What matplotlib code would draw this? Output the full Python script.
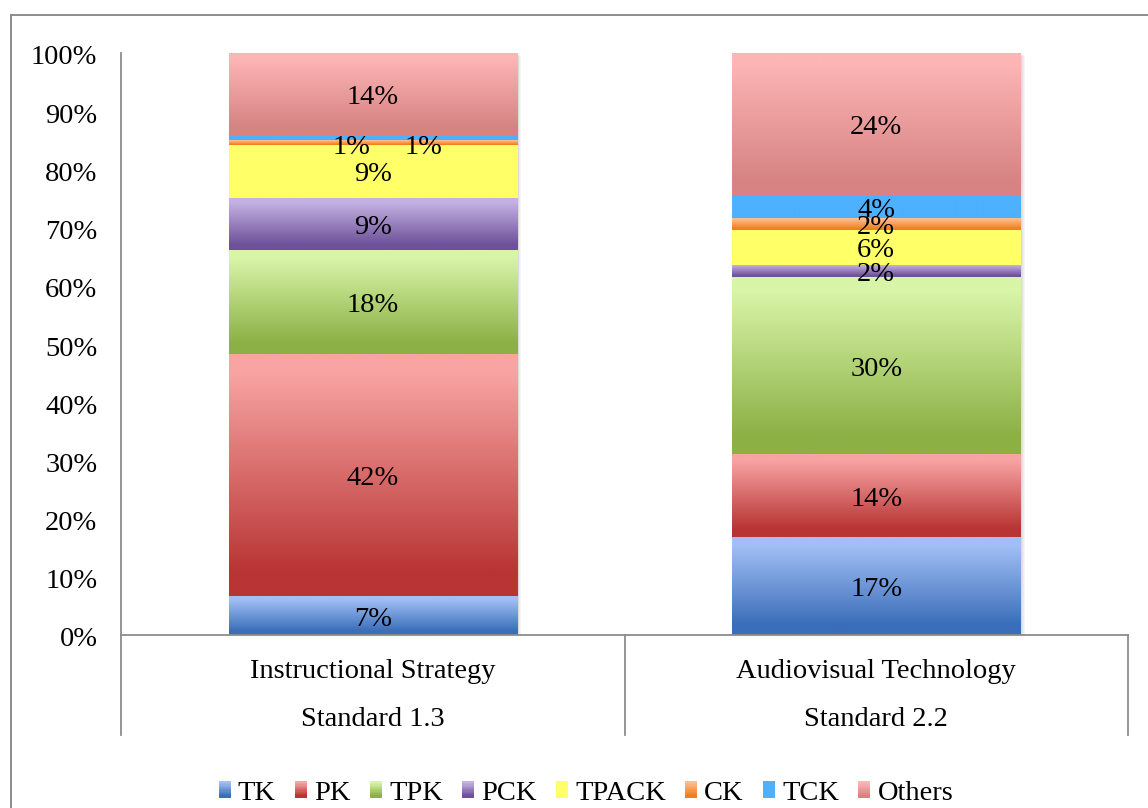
import numpy as np
import matplotlib
matplotlib.use("Agg")
import matplotlib.pyplot as plt
from matplotlib.patches import Rectangle, Patch
from matplotlib.legend_handler import HandlerBase
from matplotlib.lines import Line2D
from matplotlib.colors import to_rgb
import matplotlib.transforms as mtransforms

# ---------------- data ----------------
categories = ["Instructional Strategy", "Audiovisual Technology"]
standards = ["Standard 1.3", "Standard 2.2"]
series_names = ["TK", "PK", "TPK", "PCK", "TPACK", "CK", "TCK", "Others"]
TK = [6.7, 16.8]
PK = [41.6, 14.3]
TPK = [17.9, 30.4]
PCK = [8.9, 2.1]
TPACK = [9.1, 6.0]
CK = [0.8, 2.0]
TCK = [0.9, 4.0]
Others = [14.1, 24.4]
series_values = [TK, PK, TPK, PCK, TPACK, CK, TCK, Others]
ytick_values = [0, 10, 20, 30, 40, 50, 60, 70, 80, 90, 100]

# ---------------- style ----------------
light_colors = ["#A2BFF6", "#F8A4A3", "#D8F5A8", "#C4B2E2", "#FFFF6A", "#FFBE8C", "#4DB1FF", "#FDB5B5"]
dark_colors = ["#3A6EB9", "#B83534", "#8DB045", "#6E519A", "#FFFF66", "#F07E1E", "#4DB1FF", "#D78383"]
FONT = "Liberation Serif"
FS = 20.5
GREY = "#8c8c8c"
plt.rcParams["font.family"] = [FONT, "DejaVu Serif"]

W, H = 1148, 808
fig = plt.figure(figsize=(W / 100, H / 100), dpi=100)
ax_left, ax_right, ax_top, ax_bot = 121, 1128, 53, 635
ax = fig.add_axes([ax_left / W, 1 - ax_bot / H, (ax_right - ax_left) / W, (ax_bot - ax_top) / H])
ax_h_px = ax_bot - ax_top

bar_width = 0.572
x = np.arange(len(categories))


def grad_array(light, dark, n=256):
    s = np.linspace(0, 1, n)
    t = np.clip((s - 0.08) / 0.82, 0, 1)[:, None]
    l = np.array(to_rgb(light))[None, :]
    d = np.array(to_rgb(dark))[None, :]
    return (l * (1 - t) + d * t)[:, None, :]


# shadows
totals = np.sum(np.array(series_values), axis=0)
for k in range(1, 6):
    off = mtransforms.offset_copy(ax.transData, fig=fig, x=k * 0.9, y=-k * 0.6, units="dots")
    ax.bar(x, totals, width=bar_width, color="black", alpha=0.035, zorder=1,
           transform=off, linewidth=0)

bottom = np.zeros(len(categories))
for si, vals in enumerate(series_values):
    bars = ax.bar(x, vals, width=bar_width, bottom=bottom, color=dark_colors[si],
                  linewidth=0, zorder=2)
    g = grad_array(light_colors[si], dark_colors[si])
    for b in bars:
        bx, by = b.get_x(), b.get_y()
        bw, bh = b.get_width(), b.get_height()
        im = ax.imshow(g, extent=(bx, bx + bw, by, by + bh), aspect="auto",
                       origin="upper", zorder=3, interpolation="bilinear")
        im.set_clip_path(b)
    bottom = bottom + np.array(vals)

# data labels
label_tweaks = {("CK", 0): (-0.042, -0.3), ("TCK", 0): (0.101, -1.1)}
lab_tr = mtransforms.offset_copy(ax.transData, fig=fig, x=0, y=-3.5, units="dots")
bottom = np.zeros(len(categories))
for si, vals in enumerate(series_values):
    for ci, v in enumerate(vals):
        dx, dy = label_tweaks.get((series_names[si], ci), (0, 0))
        ax.text(x[ci] + dx, bottom[ci] + v / 2 + dy, f"{round(v)}%", ha="center", va="center",
                fontsize=FS, zorder=5, color="black", transform=lab_tr)
    bottom = bottom + np.array(vals)

ax.set_xlim(-0.5, len(categories) - 0.5)
ax.set_ylim(0, 100)
ax.set_yticks(ytick_values)
ax.set_yticklabels([f"{v}%" for v in ytick_values], fontsize=FS)
ax.tick_params(axis="y", length=0, pad=17)
for lbl in ax.get_yticklabels():
    lbl.set_transform(lbl.get_transform() + mtransforms.ScaledTranslation(0, -2 / 100, fig.dpi_scale_trans))
ax.set_xticks([])
for side in ["top", "right"]:
    ax.spines[side].set_visible(False)
for side in ["left", "bottom"]:
    ax.spines[side].set_color(GREY)
    ax.spines[side].set_linewidth(1.3)
ax.spines["bottom"].set_zorder(6)

# multi-level category axis
xt = ax.get_xaxis_transform()
depth = -(735 - ax_bot) / ax_h_px
for xs in np.arange(-0.5, len(categories), 1.0):
    ax.plot([xs, xs], [0, depth], color=GREY, lw=1.3, transform=xt, clip_on=False, zorder=6)
for ci in range(len(categories)):
    ax.text(x[ci], -(671 - ax_bot) / ax_h_px, categories[ci], transform=xt, ha="center",
            va="center", fontsize=FS)
    ax.text(x[ci], -(719 - ax_bot) / ax_h_px, standards[ci], transform=xt, ha="center",
            va="center", fontsize=FS)

# outer chart frame (partly visible)
fig.add_artist(Line2D([10.5 / W, 10.5 / W], [0, 1 - 14.5 / H], color=GREY, lw=1.4,
                      transform=fig.transFigure))
fig.add_artist(Line2D([10.5 / W, 1], [1 - 14.5 / H, 1 - 14.5 / H], color=GREY, lw=1.4,
                      transform=fig.transFigure))


# legend with gradient squares
class GradHandler(HandlerBase):
    def __init__(self, light, dark):
        super().__init__()
        self.light, self.dark = light, dark

    def create_artists(self, legend, orig_handle, xdescent, ydescent, width, height,
                       fontsize, trans):
        n = 14
        arr = grad_array(self.light, self.dark, n)[:, 0, :]
        arts = []
        for k in range(n):
            y0 = -ydescent + height * (1 - (k + 1) / n)
            r = Rectangle((-xdescent, y0), width, height / n + 0.2, facecolor=arr[k],
                          edgecolor="none", transform=trans)
            arts.append(r)
        return arts


handles = [Patch(facecolor=dark_colors[i], label=series_names[i]) for i in range(len(series_names))]
hmap = {h: GradHandler(light_colors[i], dark_colors[i]) for i, h in enumerate(handles)}
fig.legend(handles=handles, handler_map=hmap, loc="center", ncol=len(series_names),
           bbox_to_anchor=(586 / W, 1 - 793 / H), frameon=False, fontsize=FS,
           handlelength=0.42, handleheight=0.52, handletextpad=0.25, columnspacing=0.68,
           borderpad=0, borderaxespad=0)

fig.savefig("out.png", dpi=100)
